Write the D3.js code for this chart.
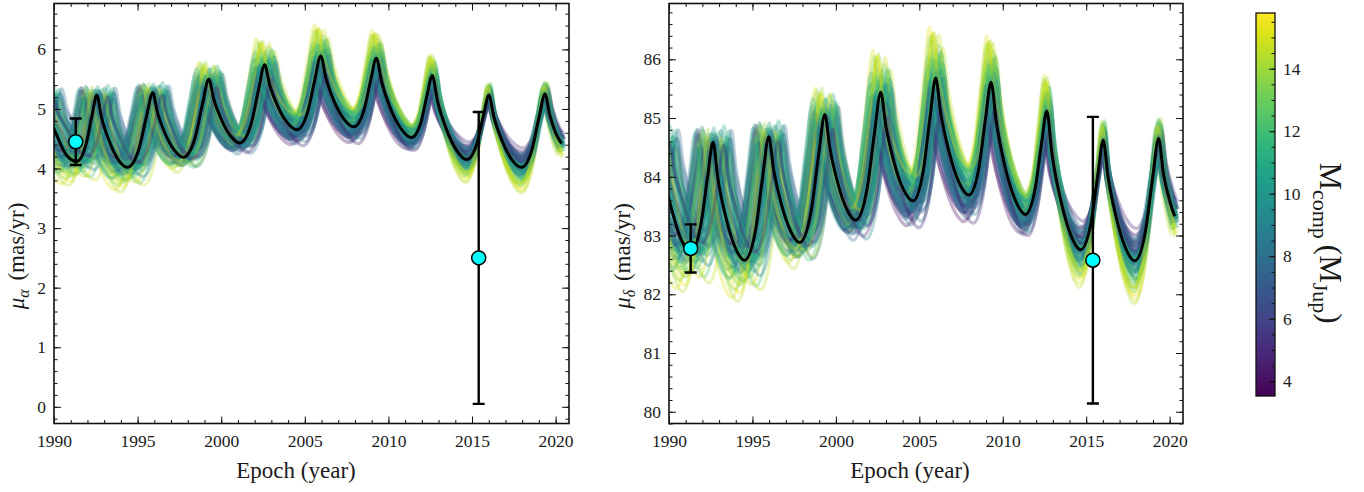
<!DOCTYPE html>
<html><head><meta charset="utf-8">
<script src="https://cdn.jsdelivr.net/npm/d3@7"></script>
<style>
body{margin:0;background:#fff;}
svg{display:block;}
svg text{font-family:"Liberation Serif","DejaVu Serif",serif;fill:#1a1a1a;}
</style>
</head><body>
<svg id="c" width="1364" height="492"></svg>
<script>
// ---------------- DATA ----------------
// best-fit curve, mu_alpha (mas/yr) vs epoch
const bestRA = [[1988.85,4.85],[1989.21,5.22],[1989.53,4.92],[1990.0,4.66],[1990.71,4.24],[1991.36,4.12],
 [1991.90,4.39],[1992.26,4.87],[1992.56,5.23],[1992.83,4.87],[1993.29,4.47],[1993.84,4.15],[1994.39,4.02],
 [1995.07,4.32],[1995.53,4.87],[1995.91,5.27],[1996.18,4.95],[1996.64,4.59],[1997.19,4.31],[1997.74,4.19],
 [1998.42,4.50],[1998.88,5.08],[1999.26,5.50],[1999.54,5.18],[2000.00,4.83],[2000.55,4.55],[2001.10,4.43],
 [2001.78,4.74],[2002.23,5.32],[2002.60,5.74],[2002.89,5.41],[2003.37,5.05],[2003.95,4.77],[2004.53,4.65],
 [2005.17,4.95],[2005.60,5.49],[2005.95,5.89],[2006.25,5.53],[2006.74,5.14],[2007.34,4.83],[2007.93,4.70],
 [2008.54,4.98],[2008.94,5.48],[2009.28,5.85],[2009.60,5.45],[2010.12,5.01],[2010.75,4.67],[2011.38,4.52],
 [2011.94,4.77],[2012.31,5.23],[2012.62,5.56],[2012.93,5.14],[2013.45,4.67],[2014.07,4.31],[2014.69,4.15],
 [2015.28,4.41],[2015.68,4.88],[2016.01,5.23],[2016.30,4.87],[2016.79,4.47],[2017.38,4.15],[2017.96,4.02],
 [2018.59,4.32],[2019.01,4.86],[2019.36,5.25],[2019.65,4.90],[2020.00,4.60],[2020.35,4.42]];
// best-fit curve, mu_delta (mas/yr) vs epoch
const bestDec = [[1988.95,84.0],[1989.30,84.60],[1989.60,84.10],[1990.0,83.62],[1990.70,82.95],[1991.30,82.72],
 [1991.90,83.17],[1992.31,83.99],[1992.64,84.59],[1992.92,83.99],[1993.40,83.32],[1993.96,82.80],[1994.53,82.58],
 [1995.18,83.08],[1995.62,84.01],[1995.98,84.68],[1996.26,84.14],[1996.72,83.55],[1997.28,83.08],[1997.83,82.88],
 [1998.51,83.40],[1998.96,84.36],[1999.34,85.06],[1999.62,84.52],[2000.08,83.93],[2000.63,83.46],[2001.18,83.26],
 [2001.86,83.78],[2002.31,84.74],[2002.69,85.44],[2002.98,84.89],[2003.46,84.27],[2004.04,83.79],[2004.62,83.59],
 [2005.23,84.09],[2005.64,85.01],[2005.98,85.68],[2006.28,85.08],[2006.78,84.43],[2007.37,83.91],[2007.97,83.69],
 [2008.57,84.15],[2008.97,85.00],[2009.30,85.61],[2009.61,84.94],[2010.12,84.19],[2010.74,83.61],[2011.35,83.36],
 [2011.93,83.78],[2012.32,84.56],[2012.64,85.12],[2012.94,84.41],[2013.45,83.63],[2014.06,83.02],[2014.67,82.76],
 [2015.28,83.21],[2015.69,84.02],[2016.02,84.62],[2016.30,84.01],[2016.78,83.33],[2017.34,82.80],[2017.91,82.57],
 [2018.55,83.07],[2018.98,83.98],[2019.34,84.65],[2019.63,84.05],[2020.00,83.60],[2020.30,83.33]];

// measurements: [epoch, value, error]
const obsRA  = [[1991.3, 4.45, 0.39], [2015.4, 2.50, 2.45]];
const obsDec = [[1991.3, 82.78, 0.41], [2015.4, 82.58, 2.44]];

// orbit samples behind the best fit: companion mass (M_Jup), period stretch, epoch shift (yr),
// amplitude jitter (fraction), offset jitter (mas/yr, mu_alpha units)
const sampleMass = [9.2,10.1,8.1,10.8,8.6,12.3,7.3,9.9,14.6,5.9, 8.9,11.3,7.6,13.2,9.5,4.8,11.6,8.7,15.2,6.8,
  9.8,8.3,12.7,4.1,10.9,9.0,13.9,6.4,9.6,12.4, 7.9,15.5,7.1,10.4,8.8,5.4,13.4,10.0,7.5,11.8,
  8.5,11.0,6.9,9.4,12.1,8.2,5.7,10.6,9.1,14.3, 9.3,3.8,11.9,7.8,11.2,8.7,13.0,6.6,10.2,8.4,
  9.7,8.0,11.5,8.9,10.5,7.2,13.5,9.5,8.6,14.8, 7.7,11.1,6.2,10.3,12.2,9.0,15.0,6.9,10.7,4.6];
const sampleStretch = [0.006,-0.020,0.030,-0.010,0.015,-0.035,0.022,0.004,-0.045,0.040,
  -0.005,0.025,-0.028,0.011,0.045,-0.015,-0.002,0.019,0.034,-0.041, 0.009,-0.024,-0.012,0.029,0.042,-0.031,0.016,-0.007,0.024,0.001,
  -0.044,0.012,0.036,-0.019,0.005,-0.011,0.026,-0.038,0.010,-0.001, 0.020,-0.025,0.032,-0.006,0.014,-0.016,0.039,-0.030,0.003,0.017,
  -0.009,0.027,-0.021,0.008,-0.034,0.021,-0.014,0.037,-0.004,0.031, 0.013,-0.027,0.043,-0.017,0.002,-0.039,0.023,-0.008,0.035,-0.022,
  0.018,-0.033,0.007,-0.013,0.028,-0.042,0.011,-0.003,0.038,-0.026];
const sampleShift = [0.03,-0.05,0.06,-0.02,0.08,-0.07,0.01,0.04,-0.03,0.05, -0.08,0.02,0.07,-0.04,0.0,0.09,-0.06,0.03,-0.01,0.05,
  -0.09,0.04,0.06,-0.02,0.01,-0.05,0.08,-0.03,0.02,-0.07, 0.05,-0.04,0.03,0.07,-0.06,0.0,-0.02,0.04,-0.08,0.06,
  -0.03,0.07,-0.05,0.02,0.09,-0.01,0.04,-0.07,0.06,-0.04, 0.01,-0.06,0.08,-0.02,0.03,-0.09,0.05,0.0,-0.05,0.02,
  0.04,-0.06,0.02,0.07,-0.03,0.05,-0.08,0.01,0.06,-0.04, 0.09,-0.02,0.03,-0.07,0.05,0.0,-0.05,0.08,-0.01,0.04];
const sampleAmpJit = [0.09,-0.13,0.17,-0.06,0.01,0.12,-0.16,0.06,-0.08,0.14, -0.04,0.10,-0.12,0.04,0.16,-0.10,0.02,-0.15,0.08,-0.02,
  0.12,-0.08,0.06,-0.13,0.18,-0.06,0.04,0.10,-0.11,0.00, 0.14,-0.04,0.08,-0.10,0.02,0.06,-0.15,0.12,-0.02,0.04,
  -0.11,0.16,-0.06,0.10,-0.16,0.04,0.12,-0.08,0.00,0.14, -0.10,0.06,-0.13,0.17,-0.04,0.08,-0.15,0.02,0.12,-0.06,
  0.10,-0.12,0.04,0.16,-0.08,0.00,0.14,-0.16,0.06,-0.04, 0.12,-0.10,0.02,0.08,-0.13,0.18,-0.06,0.04,-0.15,0.10];
const sampleOffJit = [0.03,-0.05,0.06,-0.02,0.08,-0.04,0.01,0.05,-0.07,0.02, -0.06,0.04,0.07,-0.03,0.0,0.05,-0.08,0.03,-0.01,0.06,
  -0.05,0.02,0.04,-0.06,0.01,-0.03,0.07,-0.04,0.02,-0.07, 0.05,-0.02,0.03,0.06,-0.05,0.0,-0.03,0.04,-0.06,0.05,
  -0.04,0.06,-0.07,0.02,0.04,-0.05,0.08,-0.02,0.03,-0.06, 0.01,-0.04,0.05,-0.08,0.06,-0.01,0.02,-0.05,0.07,-0.03,
  -0.02,0.05,-0.06,0.03,0.07,-0.04,0.01,0.06,-0.08,0.02, -0.05,0.04,0.0,-0.03,0.06,-0.07,0.03,0.05,-0.01,-0.06];

// envelope behaviour of the sample band
const midYears  = [1989, 1993, 1997, 2001, 2005, 2009, 2013, 2017, 2021];
const midRA     = [4.70, 4.65, 4.70, 4.95, 5.25, 5.25, 4.90, 4.62, 4.65];
const midDec    = [83.65, 83.60, 83.80, 84.30, 84.65, 84.60, 83.95, 83.60, 83.60];
const devYears  = [1990, 1993, 1996, 1999, 2002, 2005, 2008, 2011, 2014, 2017, 2020];
const ampDevRA  = [0.35, 0.35, 0.30, 0.25, 0.22, 0.20, 0.20, 0.15, 0.45, 0.42, 0.40];
const offDevRA  = [-0.15, -0.15, -0.10, 0.08, 0.25, 0.38, 0.38, 0.30, 0.00, -0.12, -0.10];
const ampDevDec = [0.35, 0.35, 0.30, 0.25, 0.22, 0.20, 0.20, 0.15, 0.45, 0.42, 0.40];
const offDevDec = [-0.26, -0.26, -0.17, 0.14, 0.43, 0.65, 0.65, 0.50, 0.00, -0.20, -0.17];

const xTicks   = [1990, 1995, 2000, 2005, 2010, 2015, 2020];
const raTicks  = [0, 1, 2, 3, 4, 5, 6];
const decTicks = [80, 81, 82, 83, 84, 85, 86];
const cbTicks  = [4, 6, 8, 10, 12, 14];

// ---------------- DRAWING ----------------
const FONT = '"Liberation Serif","DejaVu Serif",serif';
const svg = d3.select("#c");
const Y0 = 3.5, Y1 = 423.5;
const massColor = d3.scaleSequential(d3.interpolateViridis).domain([3.53, 15.78]);

const panels = [
  {x0:54, x1:569, ydom:[-0.28, 6.77], best:bestRA, obs:obsRA, ticks:raTicks, minorStep:0.2,
   mid:midRA, amp:ampDevRA, off:offDevRA, unit:1.0, sym:"α", labelX:24, xLabelX:296},
  {x0:669, x1:1183, ydom:[79.8, 86.95], best:bestDec, obs:obsDec, ticks:decTicks, minorStep:0.2,
   mid:midDec, amp:ampDevDec, off:offDevDec, unit:1.7, sym:"δ", labelX:630, xLabelX:910}
];

function styleAxis(a, withText) {
  a.attr("font-family", null).attr("font-size", null);
  a.select(".domain").remove();
  a.selectAll("line").attr("stroke", "#111").attr("stroke-width", 1);
  if (withText) a.selectAll("text").style("font-family", FONT).style("font-size", "17.5px").attr("fill", "#1a1a1a");
  return a;
}

panels.forEach((p, pi) => {
  const x = d3.scaleLinear().domain([1990, 2020.8]).range([p.x0, p.x1]);
  const y = d3.scaleLinear().domain(p.ydom).range([Y1, Y0]);
  const g = svg.append("g");
  const clipId = "clip" + pi;
  svg.append("clipPath").attr("id", clipId).append("rect")
    .attr("x", p.x0).attr("y", Y0).attr("width", p.x1 - p.x0).attr("height", Y1 - Y0);
  const plot = g.append("g").attr("clip-path", `url(#${clipId})`);
  const line = d3.line().x(d => x(d[0])).y(d => y(d[1])).curve(d3.curveMonotoneX);

  const midS = d3.scaleLinear().domain(midYears).range(p.mid).clamp(true);
  const ampS = d3.scaleLinear().domain(devYears).range(p.amp).clamp(true);
  const offS = d3.scaleLinear().domain(devYears).range(p.off).clamp(true);

  sampleMass.forEach((m, i) => {
    const k = m >= 9.8 ? (m - 9.8) / 5.8 : (m - 9.8) / 8.5;
    const pts = p.best.map(([t, v]) => {
      const mid = midS(t);
      const tt = 2016.5 + (t - 2016.5) * (1 + sampleStretch[i]) + sampleShift[i];
      const vv = mid + (v - mid) * (1 + k * ampS(t) + sampleAmpJit[i]) + k * offS(t) + sampleOffJit[i] * p.unit;
      return [tt, vv];
    });
    plot.append("path").attr("d", line(pts)).attr("fill", "none")
      .attr("stroke", massColor(m)).attr("stroke-opacity", 0.32).attr("stroke-width", 3.4)
      .attr("stroke-linejoin", "round");
  });

  plot.append("path").attr("d", line(p.best)).attr("fill", "none")
    .attr("stroke", "#000").attr("stroke-width", 3).attr("stroke-linejoin", "round");

  // error bars and points
  p.obs.forEach(([t, v, e]) => {
    const eg = plot.append("g").attr("stroke", "#000").attr("stroke-width", 2.4);
    eg.append("line").attr("x1", x(t)).attr("x2", x(t)).attr("y1", y(v - e)).attr("y2", y(v + e));
    eg.append("line").attr("x1", x(t) - 6).attr("x2", x(t) + 6).attr("y1", y(v - e)).attr("y2", y(v - e));
    eg.append("line").attr("x1", x(t) - 6).attr("x2", x(t) + 6).attr("y1", y(v + e)).attr("y2", y(v + e));
    plot.append("circle").attr("cx", x(t)).attr("cy", y(v)).attr("r", 7)
      .attr("fill", "#00ffff").attr("stroke", "#000").attr("stroke-width", 1.5);
  });

  // axes
  const xMinor = d3.range(1990, 2021, 1);
  const yMinor = d3.range(Math.ceil(p.ydom[0] / p.minorStep) * p.minorStep, p.ydom[1], p.minorStep).map(v => +v.toFixed(2));

  styleAxis(g.append("g").attr("transform", `translate(0,${Y1})`)
    .call(d3.axisBottom(x).tickValues(xTicks).tickFormat(d3.format("d")).tickSize(-7).tickPadding(11)), true);
  styleAxis(g.append("g").attr("transform", `translate(0,${Y1})`).call(d3.axisBottom(x).tickValues(xMinor).tickFormat("").tickSize(-3.5)));
  styleAxis(g.append("g").attr("transform", `translate(0,${Y0})`).call(d3.axisTop(x).tickValues(xTicks).tickFormat("").tickSize(-7)));
  styleAxis(g.append("g").attr("transform", `translate(0,${Y0})`).call(d3.axisTop(x).tickValues(xMinor).tickFormat("").tickSize(-3.5)));

  styleAxis(g.append("g").attr("transform", `translate(${p.x0},0)`)
    .call(d3.axisLeft(y).tickValues(p.ticks).tickFormat(d3.format("d")).tickSize(-7).tickPadding(8)), true);
  styleAxis(g.append("g").attr("transform", `translate(${p.x0},0)`).call(d3.axisLeft(y).tickValues(yMinor).tickFormat("").tickSize(-3.5)));
  styleAxis(g.append("g").attr("transform", `translate(${p.x1},0)`).call(d3.axisRight(y).tickValues(p.ticks).tickFormat("").tickSize(-7)));
  styleAxis(g.append("g").attr("transform", `translate(${p.x1},0)`).call(d3.axisRight(y).tickValues(yMinor).tickFormat("").tickSize(-3.5)));

  g.append("rect").attr("x", p.x0).attr("y", Y0).attr("width", p.x1 - p.x0).attr("height", Y1 - Y0)
    .attr("fill", "none").attr("stroke", "#111").attr("stroke-width", 1.6);

  // labels
  g.append("text").attr("x", p.xLabelX).attr("y", 478).attr("text-anchor", "middle")
    .style("font-size", "23px").text("Epoch (year)");
  const yl = g.append("text").attr("transform", `translate(${p.labelX},256) rotate(-90)`)
    .attr("text-anchor", "middle").style("font-size", "23px");
  yl.append("tspan").style("font-style", "italic").text("μ");
  yl.append("tspan").attr("dy", 5).style("font-size", "16px").style("font-style", "italic").text(p.sym);
  yl.append("tspan").attr("dy", -5).attr("dx", 3).text(" (mas/yr)");
});

// ---------------- COLORBAR ----------------
const cb = {x0:1256, x1:1275, y0:13, y1:396};
const cScale = d3.scaleLinear().domain([3.53, 15.78]).range([cb.y1, cb.y0]);
const defs = svg.append("defs");
const grad = defs.append("linearGradient").attr("id", "vir").attr("x1", 0).attr("y1", 1).attr("x2", 0).attr("y2", 0);
d3.range(0, 1.0001, 0.05).forEach(t => grad.append("stop").attr("offset", t).attr("stop-color", d3.interpolateViridis(t)));
svg.append("rect").attr("x", cb.x0).attr("y", cb.y0).attr("width", cb.x1 - cb.x0).attr("height", cb.y1 - cb.y0)
  .attr("fill", "url(#vir)").attr("stroke", "#111").attr("stroke-width", 1.3);
const cbMinor = d3.range(4, 15.8, 0.5);
styleAxis(svg.append("g").attr("transform", `translate(${cb.x1},0)`)
  .call(d3.axisRight(cScale).tickValues(cbTicks).tickFormat(d3.format("d")).tickSize(-6).tickPadding(8)), true);
styleAxis(svg.append("g").attr("transform", `translate(${cb.x1},0)`)
  .call(d3.axisRight(cScale).tickValues(cbMinor).tickFormat("").tickSize(-3.5)));

const cl = svg.append("text").attr("transform", "translate(1320,243) rotate(90)")
  .attr("text-anchor", "middle").style("font-size", "31px");
cl.append("tspan").text("M");
cl.append("tspan").attr("dy", 7).style("font-size", "22px").text("comp");
cl.append("tspan").attr("dy", -7).attr("dx", 6).text("(M");
cl.append("tspan").attr("dy", 7).style("font-size", "22px").text("Jup");
cl.append("tspan").attr("dy", -7).text(")");
</script>
</body></html>
